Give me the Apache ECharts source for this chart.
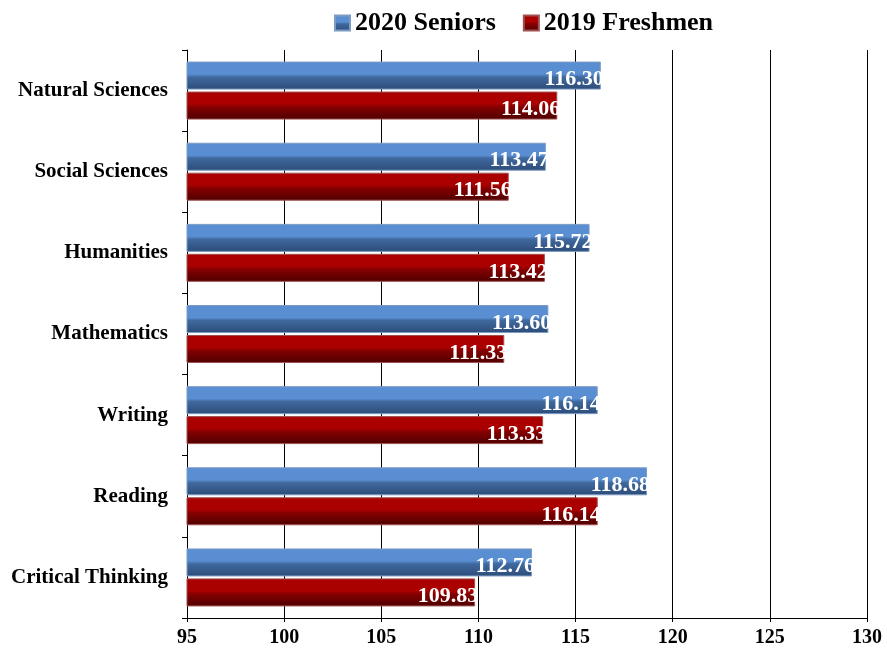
<!DOCTYPE html>
<html><head><meta charset="utf-8">
<script src="https://cdn.jsdelivr.net/npm/echarts@6/dist/echarts.min.js"></script>
<style>html,body{margin:0;padding:0;background:#fff}#c{width:887px;height:654px}</style>
</head><body><div id="c"></div>
<script>
const categories = ["Natural Sciences","Social Sciences","Humanities","Mathematics","Writing","Reading","Critical Thinking"];
const seniors2020 = [116.30,113.47,115.72,113.60,116.14,118.68,112.76];
const freshmen2019 = [114.06,111.56,113.42,111.33,113.33,116.14,109.83];
const xTicks = [95,100,105,110,115,120,125,130];

const font = '"Liberation Serif", "Times New Roman", serif';
function grad(c1,c2,c3){
  return new echarts.graphic.LinearGradient(0,0,0,1,[
    {offset:0,color:c1},{offset:0.45,color:c1},{offset:0.55,color:c2},{offset:1,color:c3}]);
}
const blueFill = grad('#5a8ed2','#40699e','#2c4c78');
const redFill = grad('#aa0000','#860000','#4e0000');
const chart = echarts.init(document.getElementById('c'));
const lbl = {show:true,position:'insideRight',distance:-3,color:'#fff',fontFamily:font,fontWeight:'bold',fontSize:22,
  formatter:p=>p.value.toFixed(2),offset:[0,4]};
chart.setOption({
  animation:false,
  legend:{top:5,left:329,itemWidth:15,itemHeight:15,itemGap:27,
    textStyle:{fontFamily:font,fontWeight:'bold',fontSize:26,color:'#000'},
    data:[{name:'2020 Seniors',icon:'rect',itemStyle:{color:blueFill}},{name:'2019 Freshmen',icon:'rect',itemStyle:{color:redFill}}]},
  grid:{left:187,right:20,top:50,bottom:36,containLabel:false},
  xAxis:{type:'value',min:xTicks[0],max:xTicks[xTicks.length-1],interval:5,
    axisLine:{show:true,lineStyle:{color:'#000',width:1}},
    axisTick:{show:true,length:4,lineStyle:{color:'#000'}},
    axisLabel:{color:'#000',fontFamily:font,fontWeight:'bold',fontSize:20,margin:10},
    splitLine:{show:true,lineStyle:{color:'#000',width:1}}},
  yAxis:{type:'category',data:categories,inverse:true,
    axisLine:{show:true,lineStyle:{color:'#000'}},
    axisTick:{show:true,length:5,lineStyle:{color:'#000'}},
    axisLabel:{color:'#000',fontFamily:font,fontWeight:'bold',fontSize:21,margin:19,padding:[6,0,0,0]}},
  series:[
    {name:'2020 Seniors',type:'bar',data:seniors2020,barWidth:28,barGap:'7%',
     itemStyle:{color:blueFill,borderColor:'#7d9cc4',borderWidth:1},label:lbl},
    {name:'2019 Freshmen',type:'bar',data:freshmen2019,barWidth:28,
     itemStyle:{color:redFill,borderColor:'#a05050',borderWidth:1},label:lbl}
  ]
});
</script></body></html>
